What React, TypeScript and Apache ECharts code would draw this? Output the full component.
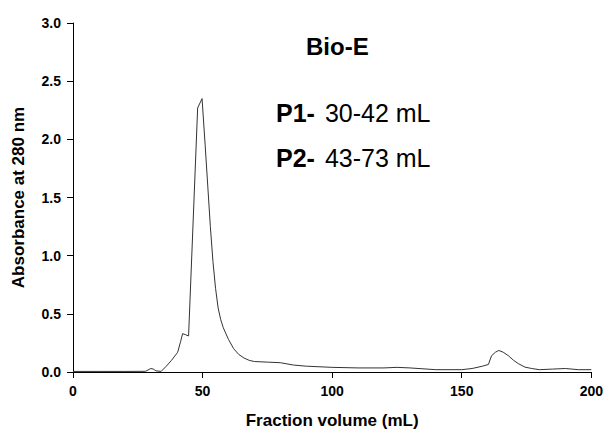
import React, { useEffect, useRef } from "react";
import * as echarts from "echarts";

const volume = [0, 10, 20, 28, 30, 31, 32, 34, 36, 38, 40.4, 41.5, 42.3, 43.5, 44.6, 48.1, 49.8, 51, 52, 53, 54, 55, 56, 57, 58, 60, 62, 64, 66, 68, 70, 75, 80, 85, 90, 100, 110, 120, 125, 130, 140, 150, 154, 158, 160.3, 161.5, 163, 164.3, 166, 168, 170, 172, 174.4, 177, 180, 185, 190, 195, 200];
const absorbance = [0.005, 0.005, 0.005, 0.006, 0.03, 0.025, 0.01, 0.005, 0.05, 0.1, 0.17, 0.26, 0.33, 0.32, 0.31, 2.27, 2.35, 1.95, 1.6, 1.25, 0.95, 0.72, 0.55, 0.45, 0.38, 0.28, 0.2, 0.15, 0.12, 0.1, 0.09, 0.085, 0.08, 0.06, 0.05, 0.04, 0.035, 0.035, 0.04, 0.035, 0.02, 0.02, 0.03, 0.05, 0.065, 0.14, 0.17, 0.185, 0.17, 0.14, 0.1, 0.07, 0.042, 0.03, 0.02, 0.025, 0.03, 0.02, 0.02];

const title = "Bio-E";
const peakLabels = [
  { name: "P1-", range: "30-42 mL" },
  { name: "P2-", range: "43-73 mL" },
];

const FONT = "Liberation Sans, Arial, sans-serif";

export default function App() {
  const ref = useRef<HTMLDivElement>(null);
  useEffect(() => {
    if (!ref.current) return;
    const chart = echarts.init(ref.current, null, { renderer: "svg" });
    const data = volume.map((v, i) => [v, absorbance[i]]);
    chart.setOption({
      animation: false,
      backgroundColor: "#fff",
      grid: { left: 73, right: 13, top: 23, bottom: 58 },
      xAxis: {
        type: "value",
        min: 0,
        max: 200,
        interval: 50,
        name: "Fraction volume (mL)",
        nameLocation: "middle",
        nameGap: 40,
        nameTextStyle: { fontFamily: FONT, fontWeight: "bold", fontSize: 17, color: "#000" },
        axisLine: { lineStyle: { color: "#000", width: 1 } },
        axisTick: { show: true, length: 6, lineStyle: { color: "#000" } },
        axisLabel: { fontFamily: FONT, fontWeight: "bold", fontSize: 14, color: "#000", margin: 12 },
        splitLine: { show: false },
      },
      yAxis: {
        type: "value",
        min: 0,
        max: 3,
        interval: 0.5,
        name: "Absorbance at 280 nm",
        nameLocation: "middle",
        nameGap: 46,
        nameTextStyle: { fontFamily: FONT, fontWeight: "bold", fontSize: 17, color: "#000" },
        axisLine: { show: true, lineStyle: { color: "#000", width: 1 } },
        axisTick: { show: true, length: 6, lineStyle: { color: "#000" } },
        axisLabel: {
          fontFamily: FONT,
          fontWeight: "bold",
          fontSize: 14,
          color: "#000",
          margin: 12,
          formatter: (v: number) => v.toFixed(1),
        },
        splitLine: { show: false },
      },
      series: [
        {
          type: "line",
          data,
          showSymbol: false,
          smooth: false,
          lineStyle: { color: "#333", width: 1 },
        },
      ],
      graphic: [
        {
          type: "text",
          left: 306,
          top: 34,
          style: { text: title, fontFamily: FONT, fontWeight: "bold", fontSize: 24, fill: "#000" },
        },
        ...peakLabels.map((p, i) => ({
          type: "text",
          left: 276,
          top: 100 + i * 45,
          style: {
            text: `{b|${p.name}}{s| }{r|${p.range}}`,
            rich: {
              b: { fontFamily: FONT, fontWeight: "bold", fontSize: 25, fill: "#000" },
              s: { fontFamily: FONT, fontSize: 25, width: 10 },
              r: { fontFamily: FONT, fontSize: 25, fill: "#000" },
            },
          },
        })),
      ],
    });
    return () => chart.dispose();
  }, []);
  return (
    <div
      ref={ref}
      style={{ position: "absolute", left: 0, top: 0, width: 606, height: 434 }}
    />
  );
}
